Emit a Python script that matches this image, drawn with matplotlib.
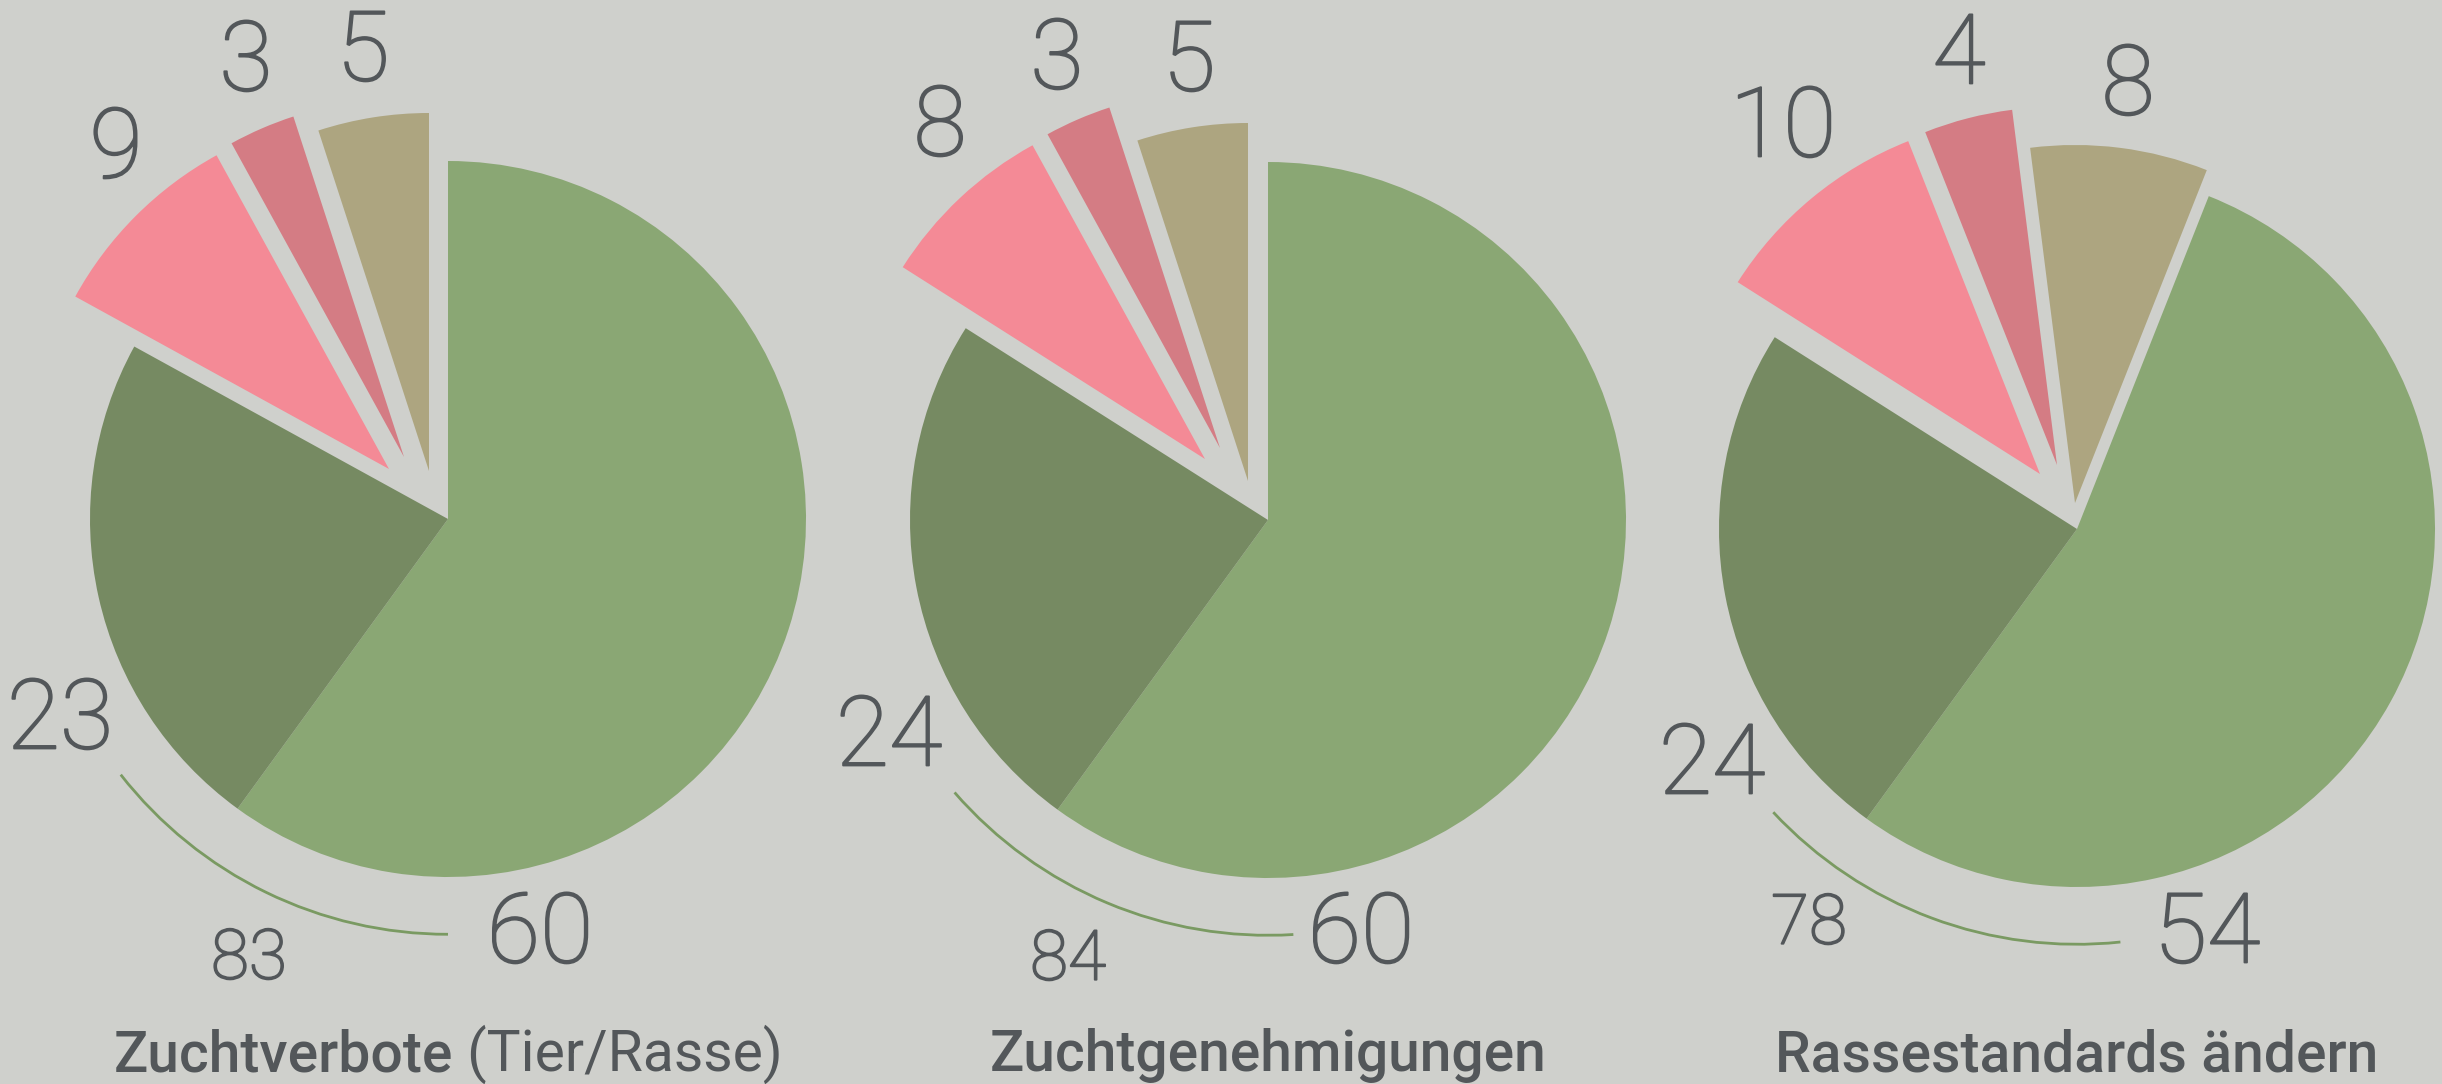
import matplotlib
matplotlib.use("Agg")
import matplotlib.pyplot as plt
from matplotlib.patches import Arc
import matplotlib.patheffects as pe

# data (percent)
titles_bold = ["Zuchtverbote", "Zuchtgenehmigungen", "Rassestandards ändern"]
titles_rest = [" (Tier/Rasse)", "", ""]
green = [60, 60, 54]
dark_green = [23, 24, 24]
tan = [5, 5, 8]
dark_pink = [3, 3, 4]
pink = [9, 8, 10]

W, H = 2442, 1084
bg = "#cfd0cc"
text_col = "#53575a"
colors = ["#8aa774", "#ada580", "#d47c84", "#f48a96", "#768a62"]
arc_col = "#7a9a62"
font = ["Roboto", "DejaVu Sans"]
thick = [pe.withStroke(linewidth=1.3, foreground=text_col)]

# layout in pixels from the top left
centers = [(448, 519), (1268, 520), (2077, 529)]
radius = 358
# shift of the exploded slices (tan, dark pink, pink), pixels, y down
shifts = [
    [(-19, -48), (-44, -62), (-59, -50)],
    [(-20, -39), (-48, -72), (-63, -61)],
    [(-2, -26), (-20, -64), (-37, -55)],
]
# label spots: tan, dark pink, pink, dark green, green, sum
label_pos = [
    [(363, 54), (246, 64), (116, 151), (60, 722), (540, 936), (249, 960)],
    [(1189, 64), (1057, 62), (940, 129), (889, 739), (1361, 936), (1068, 961)],
    [(2128, 88), (1959, 57), (1783, 130), (1712, 767), (2207, 936), (1809, 925)],
]
arc_span = [(218, 270), (221, 273.5), (223, 276)]
title_y = 1071

fig = plt.figure(figsize=(W / 100, H / 100), dpi=100, facecolor=bg)
ax = fig.add_axes([0, 0, 1, 1])
ax.set_facecolor(bg)


def up(y):
    return H - y


for i in range(3):
    cx, cy = centers[i]
    vals = [green[i], tan[i], dark_pink[i], pink[i], dark_green[i]]
    wedges, _ = ax.pie(vals, colors=colors, startangle=234, counterclock=True,
                       radius=radius, center=(cx, up(cy)),
                       wedgeprops=dict(linewidth=0))
    for w, (dx, dy) in zip(wedges[1:4], shifts[i]):
        w.set_center((cx + dx, up(cy + dy)))

    r = radius * 1.16
    t1, t2 = arc_span[i]
    ax.add_patch(Arc((cx, up(cy)), 2 * r, 2 * r, theta1=t1, theta2=t2,
                     color=arc_col, lw=2))

    nums = [tan[i], dark_pink[i], pink[i], dark_green[i], green[i]]
    for n, (x, y) in zip(nums, label_pos[i][:5]):
        ax.text(x, up(y), str(n), fontsize=70, family=font, weight="light",
                color=text_col, ha="center", va="center", path_effects=thick)
    x, y = label_pos[i][5]
    ax.text(x, up(y), str(green[i] + dark_green[i]), fontsize=50, family=font,
            weight="light", color=text_col, ha="center", va="center",
            path_effects=thick)

ax.set_xlim(0, W)
ax.set_ylim(0, H)
ax.set_aspect("equal")
ax.axis("off")

# titles: bold part + regular part, centred under each pie
renderer = fig.canvas.get_renderer()
for i in range(3):
    cx = centers[i][0]
    a = ax.text(0, up(title_y), titles_bold[i], fontsize=41, family=font,
                weight="medium", color=text_col, ha="left", va="baseline")
    b = ax.text(0, up(title_y), titles_rest[i], fontsize=41, family=font,
                weight="normal", color=text_col, ha="left", va="baseline")
    wa = a.get_window_extent(renderer).width
    wb = b.get_window_extent(renderer).width if titles_rest[i] else 0
    x0 = cx - (wa + wb) / 2
    a.set_x(x0)
    b.set_x(x0 + wa)

fig.savefig("out.png", dpi=100, facecolor=bg)
